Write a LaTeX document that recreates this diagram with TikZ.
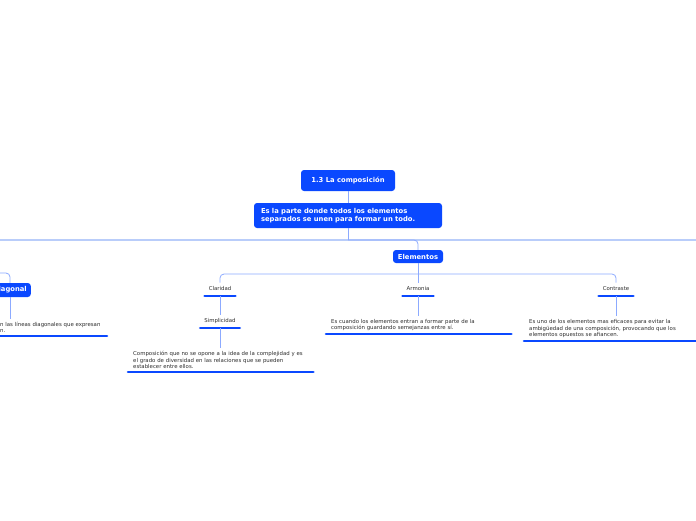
\documentclass[tikz,border=0pt]{standalone}
\usepackage{fontspec}
\setmainfont{DejaVu Sans}
\usetikzlibrary{positioning}
\definecolor{mapblue}{RGB}{10,72,255}
\definecolor{linkblue}{RGB}{140,170,255}
\definecolor{railblue}{RGB}{185,205,250}
\definecolor{notegray}{RGB}{45,45,45}
\tikzset{
topic/.style={rectangle,rounded corners=3pt,fill=mapblue,text=white,
  font=\fontsize{6.8}{8}\selectfont\bfseries,align=left},
leaf/.style={text=notegray,font=\fontsize{5.4}{6.5}\selectfont,
  inner xsep=4pt,inner ysep=0pt,text height=4pt,text depth=1pt,minimum height=13pt},
note/.style={text=notegray,font=\fontsize{5.4}{6.5}\selectfont,align=left,
  text width=175pt,inner xsep=5pt,inner ysep=3pt},
link/.style={draw=linkblue,line width=0.8pt},
uline/.style={draw=mapblue,line width=2.6pt,line cap=round},
}
\begin{document}
\begin{tikzpicture}[x=1pt,y=-1pt]
\useasboundingbox (0,0) rectangle (696,520);
\clip (0,0) rectangle (696,520);
% the topics
\node[topic,minimum width=94pt,minimum height=21pt,align=center] (root) at (348,180.5) {1.3 La composición};
\node[topic,minimum width=188pt,minimum height=25pt,text width=174pt] (desc) at (348,215.5)
  {Es la parte donde todos los elementos\\separados se unen para formar un todo.};
\node[topic,minimum width=50pt,minimum height=13pt,inner ysep=0pt] (elem) at (418,256.5) {Elementos};
\node[topic,minimum height=14pt,inner xsep=4pt,anchor=east] (diag) at (31,290) {Diagonal};
% the leaves
\node[leaf,anchor=south] (clar) at (220,296) {Claridad};
\node[leaf,anchor=south] (simp) at (220,328) {Simplicidad};
\node[leaf,anchor=south] (arm) at (418,296) {Armonia};
\node[leaf,anchor=south] (contr) at (616,296) {Contraste};
% the notes
\node[note,anchor=south west] (comp) at (128,372)
  {Composición que no se opone a la idea de la complejidad y es\\el grado de diversidad en las relaciones que se pueden\\establecer entre ellos.};
\node[note,anchor=south west] (armnote) at (326,334)
  {Es cuando los elementos entran a formar parte de la\\composición guardando semejanzas entre sí.};
\node[note,anchor=south west] (contrnote) at (524,341)
  {Es uno de los elementos mas eficaces para evitar la\\ambigüedad de una composición, provocando que los\\elementos opuestos se afiancen.};
\node[note,text width=130pt,inner xsep=0pt,anchor=south west] (diagnote) at (0,336)
  {n las líneas diagonales que expresan\\n.};
\coordinate (diagend) at (107,336);
% the underlines
\foreach \n in {clar,simp,arm,contr,comp,armnote,contrnote}
{
  \draw[uline] (\n.south west) -- (\n.south east);
}
\draw[uline] ([xshift=-10pt]diagnote.south west) -- (diagend);
% the connectors
\coordinate (rail) at (348,240);
\coordinate (hub) at (418,274);
\coordinate (diagtop) at (0,273);
\coordinate (diagx) at (10,0);
\draw[draw=railblue,line width=2pt] (0,240) -- (696,240);
\draw[link] (root) -- (desc);
\draw[link] (desc) -- (rail);
\draw[link,rounded corners=4pt] (rail) -| (elem.north);
\draw[link] (elem) -- (arm);
\draw[link,rounded corners=4pt] (hub) -| (clar.north);
\draw[link,rounded corners=4pt] (hub) -| (contr.north);
\draw[link] (clar.south) -- (simp.north);
\draw[link] (simp.south) -- (simp.south |- comp.north);
\draw[link] (arm.south) -- (arm.south |- armnote.north);
\draw[link] (contr.south) -- (contr.south |- contrnote.north);
\draw[link,rounded corners=4pt] (diagtop) -| (diagx |- diag.north);
\draw[link] (diagx |- diag.south) -- (diagx |- diagnote.north);
\end{tikzpicture}
\end{document}
